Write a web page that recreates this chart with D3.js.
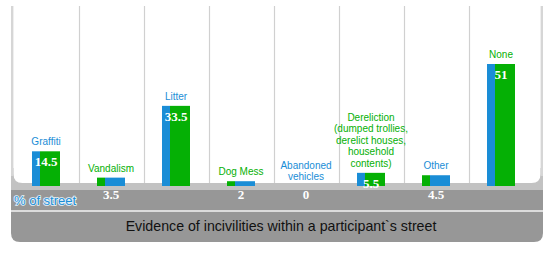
<!DOCTYPE html>
<html>
<head>
<meta charset="utf-8">
<script src="https://cdn.jsdelivr.net/npm/d3@7"></script>
<style>
  html, body { margin: 0; padding: 0; background: #fff; }
  svg { display: block; }
</style>
</head>
<body>
<svg id="chart" width="551" height="254"></svg>
<script>
// ---- data ----
const categories = ["Graffiti", "Vandalism", "Litter", "Dog Mess", "Abandoned vehicles",
  "Dereliction (dumped trollies, derelict houses, household contents)", "Other", "None"];
const labelLines = [["Graffiti"], ["Vandalism"], ["Litter"], ["Dog Mess"], ["Abandoned", "vehicles"],
  ["Dereliction", "(dumped trollies,", "derelict houses,", "household", "contents)"], ["Other"], ["None"]];
const values = [14.5, 3.5, 33.5, 2, 0, 5.5, 4.5, 51];
const valueLabels = ["14.5", "3.5", "33.5", "2", "0", "5.5", "4.5", "51"];
const rowLabel = "% of street";
const title = "Evidence of incivilities within a participant`s street";

// ---- styles ----
const BLUE = "#1a8dd6", GREEN = "#05b005";
const labelColors = [BLUE, GREEN, BLUE, GREEN, BLUE, GREEN, BLUE, GREEN];
const sideColors  = [BLUE, GREEN, BLUE, GREEN, GREEN, BLUE, GREEN, BLUE];
const frontColors = [GREEN, BLUE, GREEN, BLUE, BLUE, GREEN, BLUE, GREEN];

const svg = d3.select("#chart");
const L = 11, R = 543;

const x = d3.scaleBand().domain(categories).range([13.5, 533.5]).padding(0);
const y = d3.scaleLinear().domain([0, 51]).range([186, 64]);

// light gray strip behind rounded bottom of white panel
svg.append("rect").attr("x", L).attr("y", 168).attr("width", R - L).attr("height", 22).attr("fill", "#c2c2c2");
// white plot panel with rounded bottom corners
const pr = 9, px0 = 13.5, px1 = 540.5, py0 = 0, py1 = 183;
svg.append("path")
  .attr("d", `M${px0},${py0} H${px1} V${py1 - pr} Q${px1},${py1} ${px1 - pr},${py1} H${px0 + pr} Q${px0},${py1} ${px0},${py1 - pr} Z`)
  .attr("fill", "#fff");
// outer borders of panel
[L + 1.2, R - 1.2].forEach(xx => {
  svg.append("line").attr("x1", xx).attr("x2", xx).attr("y1", 6).attr("y2", 176)
    .attr("stroke", "#d6d6d6").attr("stroke-width", 2.4);
});

// grid separators between categories
svg.append("g").selectAll("line")
  .data(categories.slice(1))
  .join("line")
  .attr("x1", d => Math.round(x(d)) + 0.5).attr("x2", d => Math.round(x(d)) + 0.5)
  .attr("y1", 6).attr("y2", 183)
  .attr("stroke", "#d0d0d0").attr("stroke-width", 1.2);

// dark band with value row
svg.append("rect").attr("x", L).attr("y", 190).attr("width", R - L).attr("height", 20).attr("fill", "#979797");
svg.append("rect").attr("x", L).attr("y", 210).attr("width", R - L).attr("height", 2).attr("fill", "#dcdcdc");
// title band with rounded bottom corners
const tr = 9, ty0 = 212, ty1 = 242;
svg.append("path")
  .attr("d", `M${L},${ty0} H${R} V${ty1 - tr} Q${R},${ty1} ${R - tr},${ty1} H${L + tr} Q${L},${ty1} ${L},${ty1 - tr} Z`)
  .attr("fill", "#979797");

// bars
const bw = 28, sideW = 8;
const gBars = svg.append("g");
categories.forEach((c, i) => {
  const cx = x(c) + x.bandwidth() / 2;
  const top = y(values[i]);
  const h = y(0) - top;
  if (h > 0) {
    gBars.append("rect").attr("x", cx - bw / 2).attr("y", top).attr("width", sideW).attr("height", h).attr("fill", sideColors[i]);
    gBars.append("rect").attr("x", cx - bw / 2 + sideW).attr("y", top).attr("width", bw - sideW).attr("height", h).attr("fill", frontColors[i]);
  }
  // category label above bar
  const lines = labelLines[i];
  const lh = 11.5;
  const lastBase = top - 6;
  const t = svg.append("text")
    .attr("text-anchor", "middle")
    .attr("font-family", "'Liberation Sans', Arial, sans-serif")
    .attr("font-size", 10)
    .attr("fill", labelColors[i]);
  lines.forEach((ln, j) => {
    t.append("tspan").attr("x", cx).attr("y", lastBase - (lines.length - 1 - j) * lh).text(ln);
  });
  // value label
  const vy = values[i] < 5 ? 199 : top + 15;
  svg.append("text")
    .attr("x", cx).attr("y", vy)
    .attr("text-anchor", "middle")
    .attr("font-family", "'Liberation Serif', 'Times New Roman', serif")
    .attr("font-weight", "bold")
    .attr("font-size", 13)
    .attr("fill", "#fff")
    .text(valueLabels[i]);
});

// row label
svg.append("text")
  .attr("x", 14).attr("y", 205)
  .attr("font-family", "'Liberation Sans', Arial, sans-serif")
  .attr("font-size", 13)
  .attr("fill", BLUE)
  .attr("stroke", "#e6f3fb").attr("stroke-width", 1.6)
  .attr("paint-order", "stroke")
  .text(rowLabel);

// title
svg.append("text")
  .attr("x", 281).attr("y", 231)
  .attr("text-anchor", "middle")
  .attr("font-family", "'Liberation Sans', Arial, sans-serif")
  .attr("font-size", 14.2)
  .attr("fill", "#111")
  .text(title);
</script>
</body>
</html>
